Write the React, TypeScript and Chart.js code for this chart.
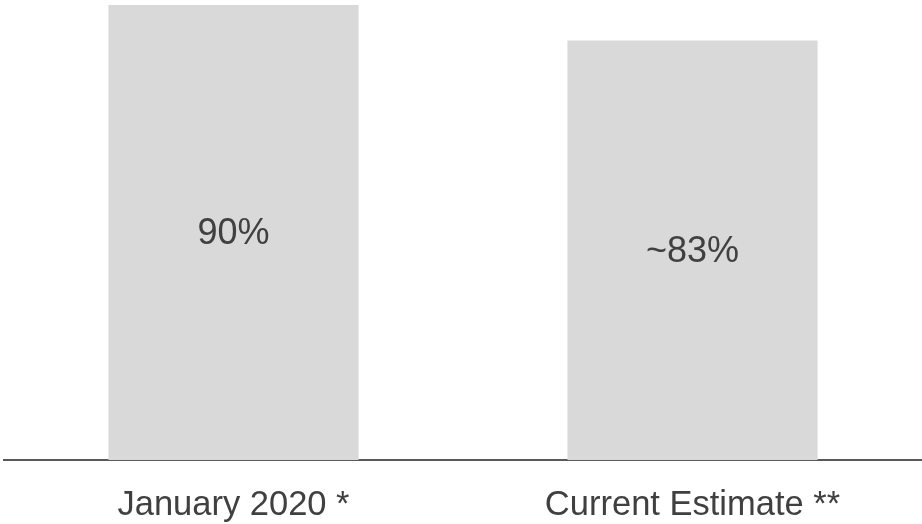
import React, { useEffect, useRef } from "react";
import { Chart, registerables } from "chart.js";

Chart.register(...registerables);

const categories: string[] = ["January 2020 *", "Current Estimate **"];
const values: number[] = [90, 83];
const valueLabels: string[] = ["90%", "~83%"];

const FONT = "'Liberation Sans', Arial, sans-serif";

const barLabelPlugin = {
  id: "barLabels",
  afterDatasetsDraw(chart: any) {
    const ctx = chart.ctx;
    const meta = chart.getDatasetMeta(0);
    ctx.save();
    ctx.font = `36px ${FONT}`;
    ctx.fillStyle = "#404040";
    ctx.textAlign = "center";
    ctx.textBaseline = "middle";
    meta.data.forEach((bar: any, i: number) => {
      const y = (bar.y + bar.base) / 2 + 2;
      ctx.fillText(valueLabels[i], bar.x, y);
    });
    ctx.restore();
  },
};

export default function App() {
  const ref = useRef<HTMLCanvasElement>(null);
  useEffect(() => {
    if (!ref.current) return;
    const chart = new Chart(ref.current, {
      type: "bar",
      data: {
        labels: categories,
        datasets: [
          {
            data: values,
            backgroundColor: "#d9d9d9",
            borderWidth: 0,
            categoryPercentage: 1,
            barPercentage: 0.545,
          },
        ],
      },
      options: {
        animation: false,
        responsive: false,
        maintainAspectRatio: false,
        layout: { padding: { left: 4, top: 5, right: 0, bottom: 0 } },
        plugins: {
          legend: { display: false },
          tooltip: { enabled: false },
        },
        scales: {
          x: {
            grid: { display: false, drawTicks: false },
            border: { display: true, color: "#595959", width: 2 },
            ticks: {
              color: "#404040",
              font: { family: FONT, size: 34.5 },
              padding: 25,
              maxRotation: 0,
            },
            afterFit(scale: any) {
              scale.height = 64;
            },
          },
          y: {
            display: false,
            min: 0,
            max: 90,
          },
        },
      },
      plugins: [barLabelPlugin],
    });
    return () => chart.destroy();
  }, []);
  return (
    <div style={{ position: "fixed", left: 0, top: 0, width: 922, height: 524, background: "#fff" }}>
      <canvas ref={ref} width={922} height={524} style={{ display: "block" }} />
    </div>
  );
}
